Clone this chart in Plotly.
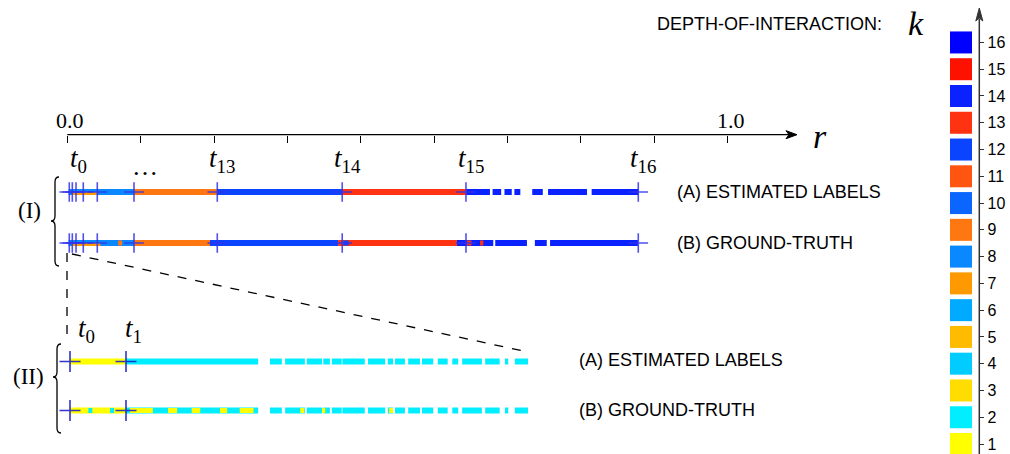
import plotly.graph_objects as go

W, H = 1010, 454

# ---------------- data ----------------
K_LEVELS = list(range(1, 17))
K_COLORS = ["#FFFF00", "#00EEFF", "#FFDD00", "#00CCFF", "#FFBB00", "#00AAFF",
            "#FF9900", "#0A88FF", "#FF7711", "#0A66FF", "#FF5511", "#0A44FF",
            "#FF3311", "#0A22FF", "#FF1100", "#0000FF"]

# r-axis ticks
R_TICKS = [i / 9 for i in range(10)]
R_LABEL_VALS = [0.0, 1.0]
R_LABEL_TEXT = ["0.0", "1.0"]

# Row (I): thresholds (r units) and labelled thresholds
T_I = [0.0030, 0.0076, 0.0132, 0.0242, 0.0454, 0.1010, 0.2271, 0.4163, 0.6037, 0.8646]
T_I_LABEL_IDX = [0, 6, 7, 8, 9]
T_I_LABEL_SUB = ["0", "13", "14", "15", "16"]

# Row (I)(A) estimated labels: main band segments
IA_START = [0.002, 0.101, 0.227, 0.416, 0.604, 0.644, 0.662, 0.677, 0.704, 0.728, 0.794]
IA_END   = [0.101, 0.227, 0.416, 0.604, 0.640, 0.657, 0.673, 0.686, 0.720, 0.787, 0.865]
IA_K     = [8, 9, 12, 13, 14, 14, 14, 14, 14, 14, 14]
# lower half band (mixed region near the origin)
IA_LOW_START = [0.007]
IA_LOW_END   = [0.045]
IA_LOW_K     = [7]

# Row (I)(B) ground truth
IB_START = [0.002, 0.101, 0.216, 0.410, 0.590, 0.648, 0.708, 0.731]
IB_END   = [0.101, 0.239, 0.410, 0.590, 0.645, 0.696, 0.726, 0.864]
IB_K     = [8, 9, 12, 13, 14, 14, 14, 14]
IB_FLECK_START = [0.077, 0.218, 0.418, 0.605, 0.625]
IB_FLECK_END   = [0.083, 0.226, 0.426, 0.612, 0.630]
IB_FLECK_K     = [9, 12, 12, 13, 13]
IB_LOW_START = [0.007]
IB_LOW_END   = [0.050]
IB_LOW_K     = [7]

# Row (II): zoom near the origin, r in units of 1e-3
T_II = [0.041, 0.892]
T_II_SUB = ["0", "1"]
IIA_START = [0.04, 0.89, 3.08, 3.31, 3.64, 3.89, 4.02, 4.18, 4.57, 4.87, 4.98, 5.18,
             5.39, 5.63, 5.85, 6.00, 6.35, 6.65, 6.80]
IIA_END   = [0.89, 2.90, 3.26, 3.61, 3.87, 3.99, 4.17, 4.52, 4.83, 4.95, 5.13, 5.36,
             5.56, 5.78, 5.94, 6.30, 6.57, 6.70, 7.00]
IIA_K     = [1] + [2] * 18
IIB_START = IIA_START
IIB_END   = IIA_END
IIB_K     = IIA_K
IIB_FLECK_START = [0.32, 0.65, 0.95, 1.53, 1.89, 2.32, 2.62, 2.77, 3.54, 3.87, 4.89]
IIB_FLECK_END   = [0.38, 0.71, 1.30, 1.67, 2.02, 2.43, 2.78, 2.83, 3.60, 3.92, 4.95]
IIB_FLECK_K     = [2, 2, 1, 1, 1, 1, 1, 1, 1, 1, 1]

# ---------------- geometry (pixels) ----------------
X0_PX, X1_PX = 67.3, 727.7          # r = 0 and r = 1 on row (I)
AX_END_PX = 790.0
AX_Y_PX = 134.7
PX_PER_R = X1_PX - X0_PX
II_PX_PER_UNIT = 65.81
ROW_Y = {"IA": 192.0, "IB": 243.0, "IIA": 361.5, "IIB": 410.5}
LEG_X = 961.0
LEG_AX_X = 979.3
LEG_K1_PX, LEG_STEP = 444.0, 26.77
LEG_TOP_PX = 11.0

fig = go.Figure()


def add_segments(starts, ends, ks, xaxis, y, width, dy=0.0):
    for k in sorted(set(ks)):
        xs, ys = [], []
        for s, e, kk in zip(starts, ends, ks):
            if kk == k:
                xs += [s, e, None]
                ys += [y + dy, y + dy, None]
        fig.add_trace(go.Scatter(x=xs, y=ys, xaxis=xaxis, yaxis="y", mode="lines",
                                 line=dict(color=K_COLORS[k - 1], width=width),
                                 hoverinfo="skip", showlegend=False))


def add_crosses(ts, xaxis, y, size, color):
    fig.add_trace(go.Scatter(x=ts, y=[y] * len(ts), xaxis=xaxis, yaxis="y", mode="markers",
                             marker=dict(symbol="cross-thin", size=size,
                                         line=dict(color=color, width=1.6)),
                             cliponaxis=False, hoverinfo="skip", showlegend=False))


# Row (I)
add_segments(IA_START, IA_END, IA_K, "x2", ROW_Y["IA"], 6)
add_segments(IA_LOW_START, IA_LOW_END, IA_LOW_K, "x2", ROW_Y["IA"], 3, dy=1.5)
add_segments(IB_START, IB_END, IB_K, "x2", ROW_Y["IB"], 6)
add_segments(IB_FLECK_START, IB_FLECK_END, IB_FLECK_K, "x2", ROW_Y["IB"], 5)
add_segments(IB_LOW_START, IB_LOW_END, IB_LOW_K, "x2", ROW_Y["IB"], 3, dy=1.5)
for rk in ("IA", "IB"):
    add_crosses(T_I, "x2", ROW_Y[rk], 14, "rgba(50,50,235,0.85)")

# Row (II)
add_segments(IIA_START, IIA_END, IIA_K, "x3", ROW_Y["IIA"], 6)
add_segments(IIB_START, IIB_END, IIB_K, "x3", ROW_Y["IIB"], 6)
add_segments(IIB_FLECK_START, IIB_FLECK_END, IIB_FLECK_K, "x3", ROW_Y["IIB"], 5)
for rk in ("IIA", "IIB"):
    add_crosses(T_II, "x3", ROW_Y[rk], 15, "rgba(30,30,200,0.9)")

# Legend squares
fig.add_trace(go.Scatter(x=[LEG_X] * len(K_LEVELS), y=K_LEVELS, xaxis="x", yaxis="y2",
                         mode="markers",
                         marker=dict(symbol="square", size=22, color=K_COLORS, line=dict(width=0)),
                         cliponaxis=False, hoverinfo="skip", showlegend=False))

# ---------------- annotations ----------------
SERIF = "Liberation Serif"
SANS = "Liberation Sans"
ann = []
for v, txt in zip(R_LABEL_VALS, R_LABEL_TEXT):
    ann.append(dict(x=v, y=AX_Y_PX - 14, xref="x2", yref="y", xanchor="center", yanchor="middle",
                    xshift=3, showarrow=False, text=txt,
                    font=dict(family=SERIF, size=22, color="black")))
for i, sub in zip(T_I_LABEL_IDX, T_I_LABEL_SUB):
    ann.append(dict(x=T_I[i], y=160, xref="x2", yref="y", xanchor="center", yanchor="middle",
                    xshift=(9 if i == 0 else 5), showarrow=False,
                    text=f"<i>t</i><sub>{sub}</sub>",
                    font=dict(family=SERIF, size=27, color="black")))
ann.append(dict(x=T_I[5], y=166, xref="x2", yref="y", xanchor="center", yanchor="middle",
                xshift=11, showarrow=False, text="…",
                font=dict(family=SERIF, size=26, color="black")))
for t, sub, sh in zip(T_II, T_II_SUB, [16, 7]):
    ann.append(dict(x=t, y=330, xref="x3", yref="y", xanchor="center", yanchor="middle",
                    xshift=sh, showarrow=False, text=f"<i>t</i><sub>{sub}</sub>",
                    font=dict(family=SERIF, size=27, color="black")))

LBL_SIZE = 18
ann += [
    dict(x=820, y=136, xref="x", yref="y", text="<i>r</i>", showarrow=False,
         font=dict(family=SERIF, size=34, color="black")),
    dict(x=29, y=210, xref="x", yref="y", text="(I)", showarrow=False,
         font=dict(family=SERIF, size=23, color="black")),
    dict(x=28, y=376, xref="x", yref="y", text="(II)", showarrow=False,
         font=dict(family=SERIF, size=23, color="black")),
    dict(x=675, y=ROW_Y["IA"], xref="x", yref="y", xanchor="left", text="(A) ESTIMATED LABELS",
         showarrow=False, font=dict(family=SANS, size=LBL_SIZE, color="black")),
    dict(x=675, y=ROW_Y["IB"], xref="x", yref="y", xanchor="left", text="(B) GROUND-TRUTH",
         showarrow=False, font=dict(family=SANS, size=LBL_SIZE, color="black")),
    dict(x=577, y=ROW_Y["IIA"] - 2, xref="x", yref="y", xanchor="left", text="(A) ESTIMATED LABELS",
         showarrow=False, font=dict(family=SANS, size=LBL_SIZE, color="black")),
    dict(x=577, y=ROW_Y["IIB"] - 1, xref="x", yref="y", xanchor="left", text="(B) GROUND-TRUTH",
         showarrow=False, font=dict(family=SANS, size=LBL_SIZE, color="black")),
    dict(x=655, y=24, xref="x", yref="y", xanchor="left", text="DEPTH-OF-INTERACTION:",
         showarrow=False, font=dict(family=SANS, size=18, color="black")),
    dict(x=916, y=23, xref="x", yref="y", text="<i>k</i>", showarrow=False,
         font=dict(family=SERIF, size=34, color="black")),
]


# ---------------- shapes ----------------
def brace(xs, y0, y1, ym, c=5.0, d=4.0):
    return (f"M {xs + d},{y0} Q {xs},{y0} {xs},{y0 + c} L {xs},{ym - c} "
            f"Q {xs},{ym} {xs - d},{ym} Q {xs},{ym} {xs},{ym + c} "
            f"L {xs},{y1 - c} Q {xs},{y1} {xs + d},{y1}")


leg_bottom_k = 1 - (H - LEG_K1_PX) / LEG_STEP
leg_top_k = 1 + LEG_K1_PX / LEG_STEP
leg_arrow_k = 1 + (LEG_K1_PX - LEG_TOP_PX - 8) / LEG_STEP

shapes = [
    # r axis line
    dict(type="line", xref="x2", yref="y", x0=0, x1=(AX_END_PX - X0_PX) / PX_PER_R,
         y0=AX_Y_PX, y1=AX_Y_PX, line=dict(color="black", width=1.3)),
    # legend axis line
    dict(type="line", xref="x", yref="y2", x0=LEG_AX_X, x1=LEG_AX_X,
         y0=leg_bottom_k, y1=leg_arrow_k, line=dict(color="#333", width=1.5)),
    dict(type="path", xref="x", yref="y", path=brace(55, 177, 266, 221),
         line=dict(color="black", width=1.3)),
    dict(type="path", xref="x", yref="y", path=brace(57, 344, 433, 377),
         line=dict(color="black", width=1.3)),
    dict(type="line", xref="x", yref="y", x0=67, y0=253, x1=67, y1=342,
         line=dict(color="black", width=1.3, dash="dash")),
    dict(type="line", xref="x", yref="y", x0=72, y0=254, x1=528, y1=352,
         line=dict(color="black", width=1.3, dash="dash")),
    # arrow heads
    dict(type="path", xref="x", yref="y",
         path=f"M {AX_END_PX - 4},{AX_Y_PX - 4} L {AX_END_PX + 7},{AX_Y_PX} "
              f"L {AX_END_PX - 4},{AX_Y_PX + 4} L {AX_END_PX - 1},{AX_Y_PX} Z",
         fillcolor="black", line=dict(color="black", width=1)),
    dict(type="path", xref="x", yref="y",
         path=f"M {LEG_AX_X - 3.5},21 L {LEG_AX_X},8 L {LEG_AX_X + 3.5},21 L {LEG_AX_X},18 Z",
         fillcolor="#333", line=dict(color="#333", width=1)),
]

fig.update_layout(
    width=W, height=H, autosize=False,
    margin=dict(l=0, r=0, t=0, b=0, autoexpand=False),
    paper_bgcolor="white", plot_bgcolor="rgba(0,0,0,0)",
    showlegend=False,
    xaxis=dict(domain=[0, 1], range=[0, W], visible=False, fixedrange=True),
    yaxis=dict(domain=[0, 1], range=[H, 0], visible=False, fixedrange=True),
    xaxis2=dict(domain=[0, 1], range=[-X0_PX / PX_PER_R, (W - X0_PX) / PX_PER_R],
                anchor="free", position=(H - AX_Y_PX) / H, overlaying="x", side="top",
                ticks="inside", ticklen=7, tickwidth=1.2, tickcolor="black",
                tickvals=R_TICKS, showticklabels=False, showline=False,
                showgrid=False, zeroline=False, fixedrange=True),
    xaxis3=dict(domain=[0, 1], range=[-X0_PX / II_PX_PER_UNIT, (W - X0_PX) / II_PX_PER_UNIT],
                overlaying="x", visible=False, fixedrange=True),
    yaxis2=dict(domain=[0, 1], range=[leg_bottom_k, leg_top_k],
                anchor="free", position=LEG_AX_X / W, side="right", overlaying="y",
                ticks="outside", ticklen=4, tickwidth=1.2, tickcolor="#333",
                tickvals=K_LEVELS, showline=False,
                showgrid=False, zeroline=False, fixedrange=True,
                tickfont=dict(family=SANS, size=16, color="black")),
    annotations=ann,
    shapes=shapes,
)

fig.write_html("out.html", config={"displayModeBar": False},
               post_script="document.body.style.margin='0';document.body.style.overflow='hidden';")
